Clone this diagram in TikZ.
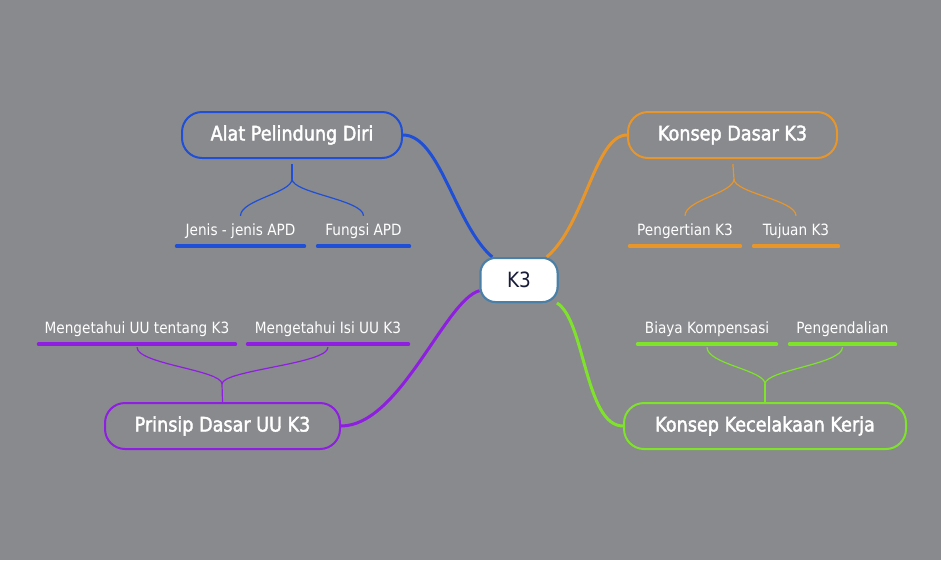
\documentclass[tikz,border=0pt]{standalone}
\usepackage{fontspec}
\setmainfont{DejaVu Sans}[FakeStretch=0.88]
\newfontfamily\topicfont{DejaVu Sans}[FakeStretch=0.88,FakeBold=2]
\usetikzlibrary{calc}
\definecolor{bggrey}{HTML}{898A8D}
\definecolor{apdblue}{HTML}{1F4FD6}
\definecolor{kdorange}{HTML}{E8962A}
\definecolor{uupurple}{HTML}{8E1FE0}
\definecolor{kkgreen}{HTML}{7EE32A}
\definecolor{rootblue}{HTML}{4A80A8}
\definecolor{rootink}{HTML}{1A1D3A}
\tikzstyle{root}=[draw=rootblue, fill=white, line width=2pt, rounded corners=15pt, minimum width=77pt, minimum height=44pt, inner sep=0pt, text=rootink, font=\fontsize{21}{24}\selectfont]
\tikzstyle{topic}=[draw, line width=2pt, rounded corners=20pt, minimum height=46pt, inner sep=0pt, text=white, font=\topicfont\fontsize{20}{23}\selectfont]
\tikzstyle{subtopic}=[minimum height=30pt, inner sep=0pt, text=white, font=\fontsize{15.5}{17}\selectfont]
\tikzstyle{branch}=[line width=3pt]
\tikzstyle{twig}=[line width=1.2pt]
\tikzstyle{underline}=[line width=3.5pt, line cap=round, shorten <=1.75pt, shorten >=1.75pt]

\begin{document}
\begin{tikzpicture}[x=1pt, y=-1pt]
	\fill[bggrey] (0,0) rectangle (941,560);
	\useasboundingbox (0,0) rectangle (941,560);

	% Central topic and main topics
	\node[root] (k3) at (519,280) {K3};
	\node[topic, draw=apdblue, minimum width=220pt] (apd) at (292,135) {Alat Pelindung Diri};
	\node[topic, draw=kdorange, minimum width=209pt] (kd) at (732.5,135) {Konsep Dasar K3};
	\node[topic, draw=uupurple, minimum width=235pt] (uu) at (222.5,426) {Prinsip Dasar UU K3};
	\node[topic, draw=kkgreen, minimum width=282pt] (kk) at (765,426) {Konsep Kecelakaan Kerja};

	% Subtopics
	\node[subtopic, minimum width=131pt] (jenis) at (240.5,231) {Jenis - jenis APD};
	\node[subtopic, minimum width=95pt] (fungsi) at (363.5,231) {Fungsi APD};
	\node[subtopic, minimum width=114pt] (pengertian) at (685,231) {Pengertian K3};
	\node[subtopic, minimum width=88pt] (tujuan) at (796,231) {Tujuan K3};
	\node[subtopic, minimum width=200pt] (uutentang) at (137,329) {Mengetahui UU tentang K3};
	\node[subtopic, minimum width=164pt] (uuisi) at (328,329) {Mengetahui Isi UU K3};
	\node[subtopic, minimum width=142pt] (biaya) at (707,329) {Biaya Kompensasi};
	\node[subtopic, minimum width=109pt] (pengendalian) at (842.5,329) {Pengendalian};

	\foreach \sub/\col in {jenis/apdblue, fungsi/apdblue, pengertian/kdorange, tujuan/kdorange, uutentang/uupurple, uuisi/uupurple, biaya/kkgreen, pengendalian/kkgreen}
	\draw[underline, \col] (\sub.south west) -- (\sub.south east);

	% Branches from the centre
	\draw[branch, apdblue] (k3) .. controls (455,225) and (440,135) .. (apd.east);
	\draw[branch, kdorange] (k3) .. controls (585,225) and (595,135) .. (kd.west);
	\draw[branch, uupurple] (k3) .. controls (445,300) and (400,426) .. (uu.east);
	\draw[branch, kkgreen] (k3) .. controls (585,320) and (585,426) .. (kk.west);
	\node[root] at (k3) {K3};

	% Forks
	\coordinate (apdfork) at (292,179);
	\coordinate (kdfork) at (734,179);
	\coordinate (uufork) at (222,384);
	\coordinate (kkfork) at (765,384);

	\draw[twig, apdblue, shorten <=5pt] (apd.south) -- (apdfork);
	\foreach \sub in {jenis,fungsi}
	\draw[twig, apdblue] (apdfork) .. controls +(0,14) and +(0,-16) .. (\sub.north);
	\draw[twig, kdorange, shorten <=5pt] (kd.south) -- (kdfork);
	\foreach \sub in {pengertian,tujuan}
	\draw[twig, kdorange] (kdfork) .. controls +(0,14) and +(0,-16) .. (\sub.north);

	\draw[twig, uupurple] (uufork) -- (uu.north);
	\foreach \sub in {uutentang,uuisi}
	\draw[twig, uupurple, shorten <=3pt] (\sub.south) .. controls +(0,20) and +(0,-14) .. (uufork);
	\draw[twig, kkgreen] (kkfork) -- (kk.north);
	\foreach \sub in {biaya,pengendalian}
	\draw[twig, kkgreen, shorten <=3pt] (\sub.south) .. controls +(0,20) and +(0,-14) .. (kkfork);
\end{tikzpicture}
\end{document}
